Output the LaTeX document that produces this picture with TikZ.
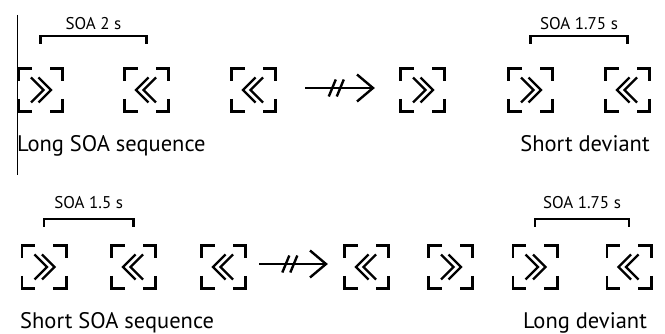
\documentclass[tikz,border=0pt]{standalone}
\usepackage{fontspec}
\setmainfont{PT Sans}
\usetikzlibrary{calc}
\tikzset{
  stimbox/.style={minimum width=47pt, minimum height=46pt, inner sep=0pt, outer sep=0pt},
  cornerline/.style={line width=2.8pt, line join=miter},
  chevline/.style={line width=2.3pt, line join=miter},
  arrowline/.style={line width=2.4pt},
  bracketline/.style={line width=2.4pt, line join=miter},
  soalabel/.style={font=\fontsize{17}{20}\selectfont, inner sep=0pt, anchor=base},
  maintext/.style={font=\fontsize{22.5}{26}\selectfont, inner sep=0pt},
  edgeline/.style={line width=1pt}
}
% #1 name, #2 position, #3 direction (1 = right, -1 = left)
\newcommand{\stimulus}[3]{%
  \node[stimbox] (#1) at (#2) {};
  \begin{scope}[shift={(#1.center)}, xscale=#3]
    \draw[cornerline] (-22.1,-9) -- (-22.1,-21.6) -- (-9,-21.6);
    \draw[cornerline] (22.1,-9) -- (22.1,-21.6) -- (9,-21.6);
    \draw[cornerline] (-22.1,9) -- (-22.1,21.6) -- (-9,21.6);
    \draw[cornerline] (22.1,9) -- (22.1,21.6) -- (9,21.6);
    \draw[chevline] (-9.5,-12.5) -- (3,0) -- (-9.5,12.5);
    \draw[chevline] (-2,-12.5) -- (10.5,0) -- (-2,12.5);
  \end{scope}}
% #1 start, #2 end, #3 break position
\newcommand{\brokenarrow}[3]{%
  \draw[arrowline] (#1) -- (#2);
  \draw[arrowline] ($(#1)!#3!(#2)+(-4,0)$) ++(-3.5,8.5) -- ++(7,-17);
  \draw[arrowline] ($(#1)!#3!(#2)+(4,0)$) ++(-3.5,8.5) -- ++(7,-17);
  \draw[arrowline, line join=miter] ($(#2)+(-16,-13.5)$) -- (#2) -- ($(#2)+(-16,13.5)$);}
% #1 left node, #2 right node, #3 top offset, #4 leg length
\newcommand{\soabracket}[4]{%
  \draw[bracketline] ($(#1.center)+(0,-#3+#4)$) -- ($(#1.center)+(0,-#3)$) -| ($(#2.center)+(0,-#3+#4)$);}
\begin{document}
\begin{tikzpicture}[x=1pt, y=-1pt]
  \useasboundingbox (0,0) rectangle (665,334);
  % left edge line
  \coordinate (et) at (17.3,15);
  \coordinate (eb) at (17.3,175);
  \draw[edgeline] (et) -- (eb);
  % row 1
  \stimulus{ra}{40.5,90}{1}
  \stimulus{rb}{146.5,90}{-1}
  \stimulus{rc}{253.5,90}{-1}
  \stimulus{rd}{422.5,90}{1}
  \stimulus{re}{530.5,90}{1}
  \stimulus{rf}{627.5,90}{-1}
  \coordinate (as) at ($(rc.east)+(28,-2)$);
  \coordinate (ae) at ($(rd.west)+(-26,-2)$);
  \brokenarrow{as}{ae}{0.46}
  \soabracket{ra}{rb}{54}{8}
  \soabracket{re}{rf}{54}{8}
  \node[soalabel] (la) at ($(ra.center)!0.5!(rb.center)+(0,-60)$) {SOA 2 s};
  \node[soalabel] (lb) at ($(re.center)!0.5!(rf.center)+(0,-60)$) {SOA 1.75 s};
  \node[maintext, anchor=base west] (ta) at (17,152) {Long SOA sequence};
  \node[maintext, anchor=base] (tb) at (585,152) {Short deviant};
  % row 2
  \stimulus{sa}{44,267}{1}
  \stimulus{sb}{133.5,267}{-1}
  \stimulus{sc}{223.5,267}{-1}
  \stimulus{sd}{366.5,267}{-1}
  \stimulus{se}{450.5,267}{1}
  \stimulus{sf}{535,267}{1}
  \stimulus{sg}{629,267}{-1}
  \coordinate (bs) at ($(sc.east)+(12,-3)$);
  \coordinate (be) at ($(sd.west)+(-17,-3)$);
  \brokenarrow{bs}{be}{0.46}
  \soabracket{sa}{sb}{48}{8}
  \soabracket{sf}{sg}{48}{8}
  \node[soalabel] (lc) at ($(sa.center)!0.5!(sb.center)+(0,-58)$) {SOA 1.5 s};
  \node[soalabel] (ld) at ($(sf.center)!0.5!(sg.center)+(0,-58)$) {SOA 1.75 s};
  \node[maintext, anchor=base west] (tc) at (20,329) {Short SOA sequence};
  \node[maintext, anchor=base] (td) at (585,329) {Long deviant};
\end{tikzpicture}
\end{document}
